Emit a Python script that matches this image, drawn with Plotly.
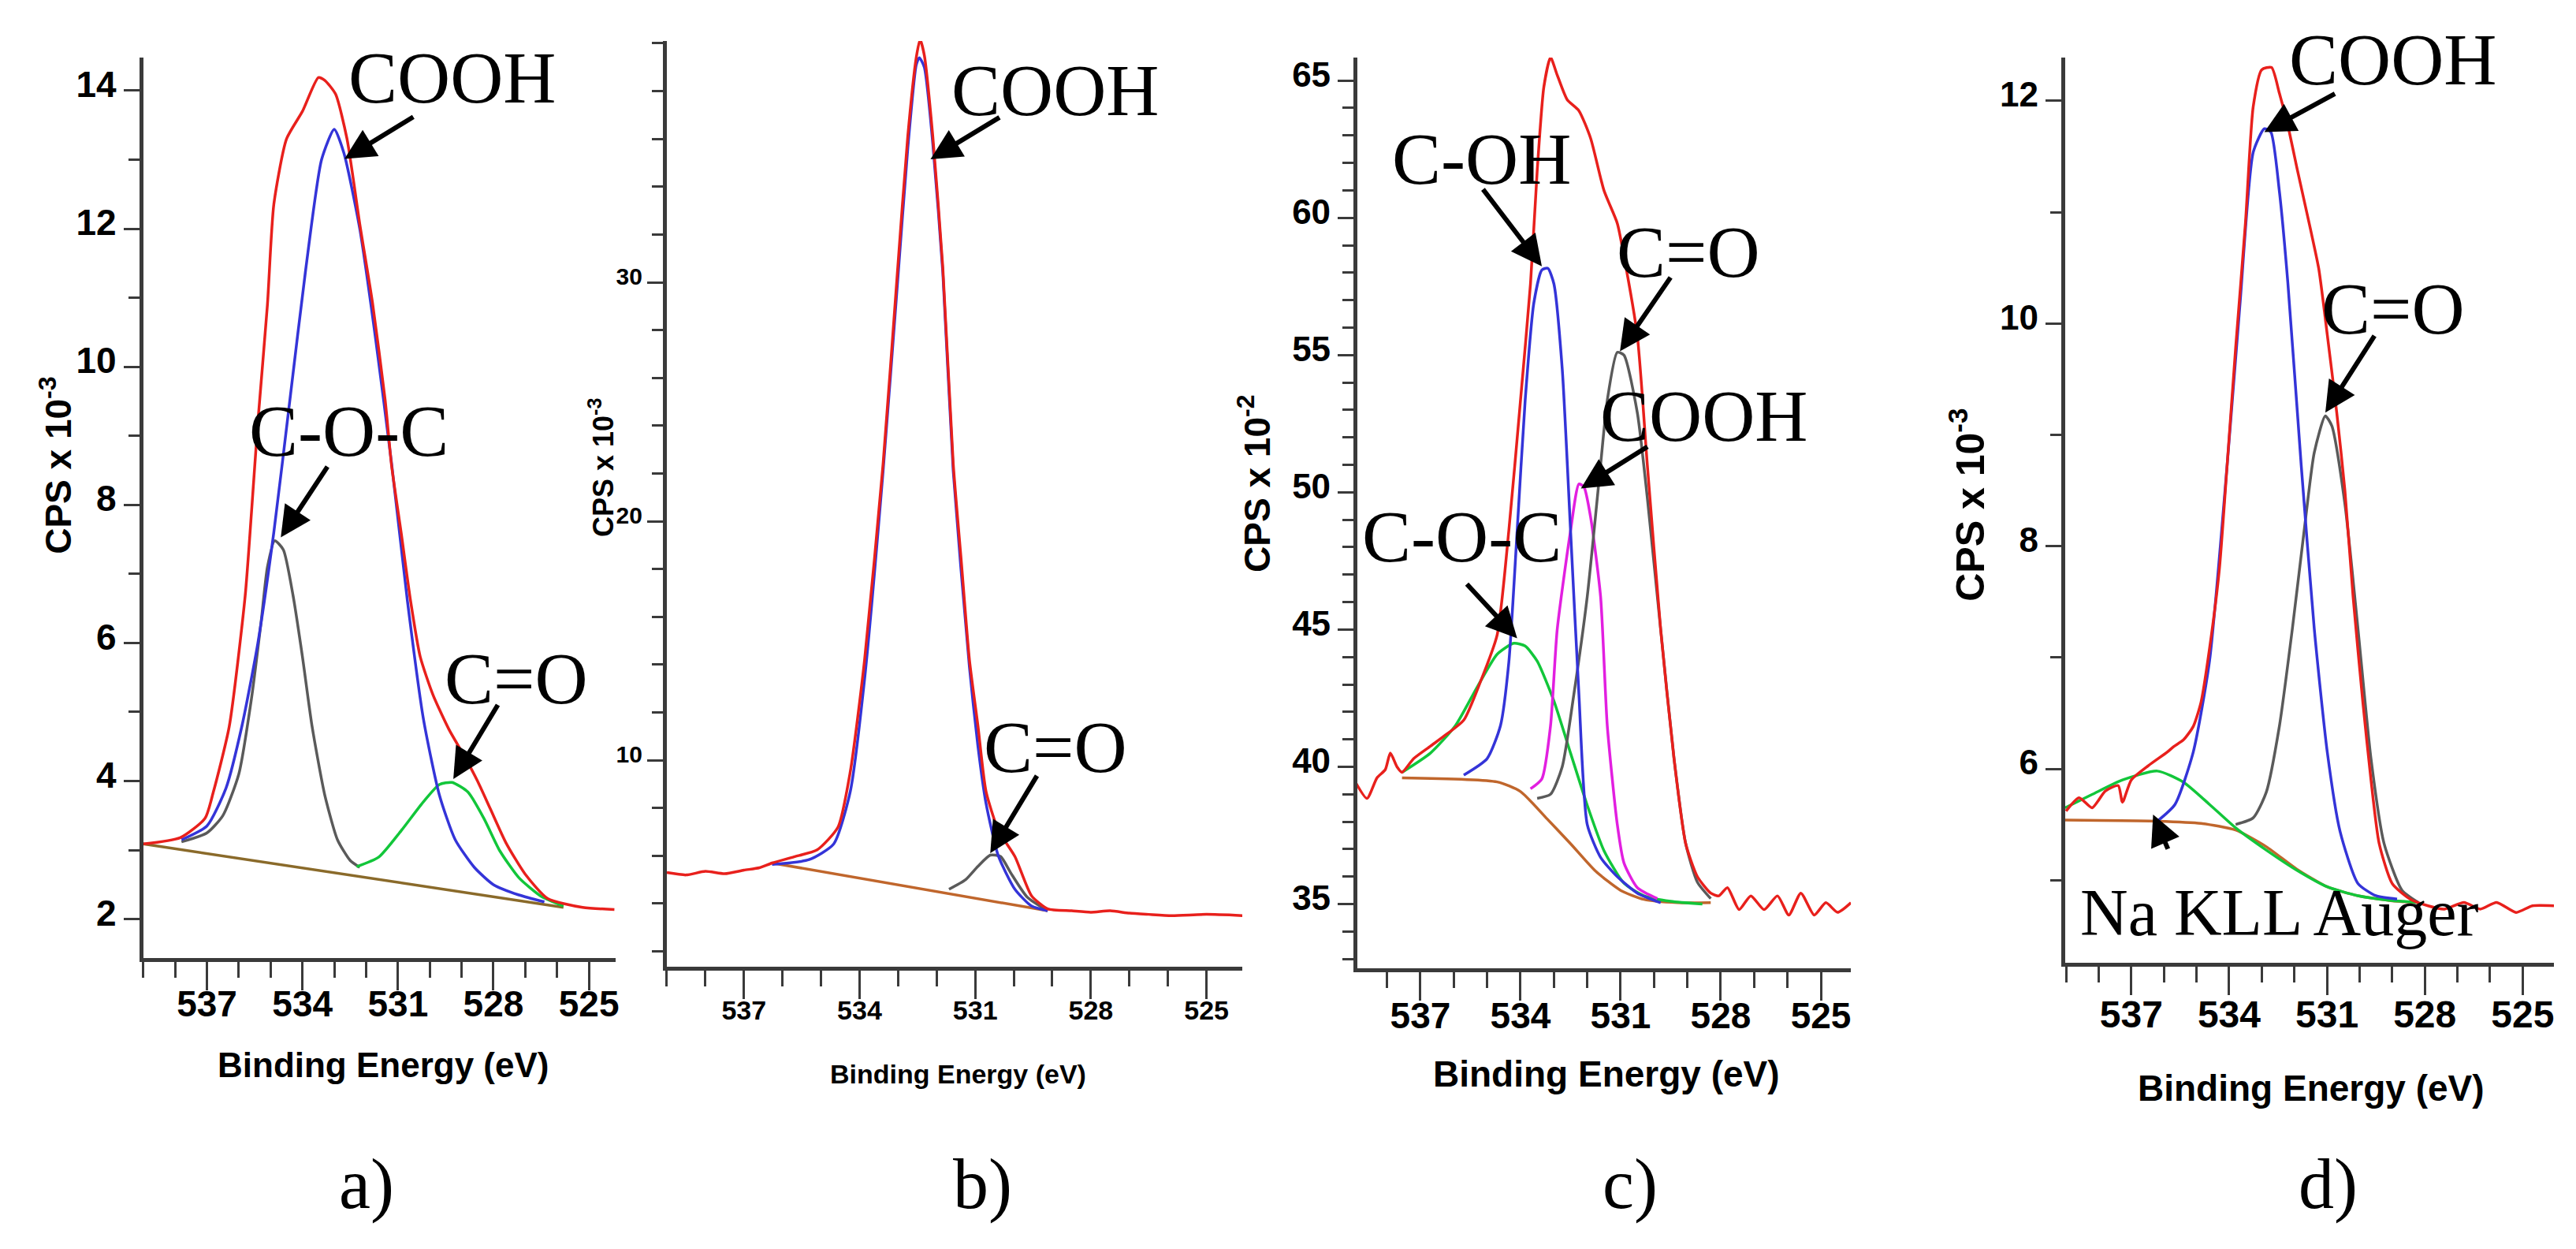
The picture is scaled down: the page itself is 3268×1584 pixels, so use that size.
import plotly.graph_objects as go

W, H = 3268, 1584

# ---------------- data (binding energy in eV, intensity in CPS units of each panel) -------------
X_TICKS = [537, 534, 531, 528, 525]

# Panel a (CPS x 10^-3)
A_RAW_E = [539.0, 537.84, 537.06, 536.8, 536.3, 535.8, 535.6, 535.4, 535.1, 534.9, 534.5, 534.0, 533.5, 533.3, 532.96, 532.6, 532.2, 531.8, 531.4, 531.2, 530.9, 530.6, 530.3, 529.9, 529.4, 528.9, 528.5, 528.1, 527.6, 527.0, 526.3, 525.2, 524.2]
A_RAW_I = [3.09, 3.18, 3.46, 3.84, 4.79, 6.68, 7.9, 9.2, 10.9, 12.35, 13.3, 13.7, 14.19, 14.15, 13.95, 13.3, 12.07, 10.93, 9.51, 8.57, 7.6, 6.6, 5.8, 5.25, 4.75, 4.35, 4.0, 3.6, 3.1, 2.65, 2.3, 2.17, 2.14]
A_COOH_E = [537.8, 537.0, 536.4, 535.9, 535.4, 534.9, 534.4, 533.9, 533.4, 533.0, 532.7, 532.2, 531.7, 531.2, 530.7, 530.2, 529.7, 529.2, 528.6, 528.0, 527.2, 526.4]
A_COOH_I = [3.15, 3.35, 3.9, 4.8, 6.0, 7.6, 9.5, 11.4, 13.0, 13.44, 13.1, 12.0, 10.4, 8.6, 6.6, 4.9, 3.8, 3.15, 2.75, 2.5, 2.35, 2.25]
A_COC_E = [537.8, 537.0, 536.5, 536.0, 535.6, 535.3, 535.1, 534.87, 534.6, 534.3, 534.0, 533.7, 533.3, 532.9, 532.5, 532.2]
A_COC_I = [3.12, 3.25, 3.5, 4.1, 5.2, 6.3, 7.1, 7.48, 7.35, 6.7, 5.8, 4.8, 3.8, 3.15, 2.85, 2.75]
A_CO_E = [532.3, 531.6, 530.9, 530.2, 529.7, 529.3, 528.8, 528.3, 527.8, 527.2, 526.5, 525.8]
A_CO_I = [2.76, 2.9, 3.28, 3.7, 3.95, 3.98, 3.84, 3.46, 2.99, 2.6, 2.33, 2.19]
A_BG_E = [539.0, 525.8]
A_BG_I = [3.09, 2.17]

# Panel b (CPS x 10^-3)
B_RAW_E = [539.0, 538.5, 538.0, 537.5, 537.0, 536.6, 536.27, 535.7, 535.1, 534.56, 534.24, 533.87, 533.39, 533.01, 532.75, 532.53, 532.43, 532.32, 532.1, 531.84, 531.57, 531.36, 531.15, 530.93, 530.72, 530.4, 529.97, 529.54, 529.12, 528.5, 528.0, 527.5, 527.0, 526.5, 525.9, 525.0, 524.07]
B_RAW_I = [5.3, 5.2, 5.35, 5.25, 5.4, 5.5, 5.7, 5.96, 6.25, 7.2, 9.53, 14.2, 22.4, 30.6, 36.1, 39.4, 40.16, 39.5, 36.1, 30.6, 22.4, 18.3, 14.2, 11.45, 8.7, 7.07, 5.97, 4.33, 3.78, 3.7, 3.64, 3.7, 3.6, 3.55, 3.5, 3.55, 3.5]
B_COOH_E = [536.27, 535.31, 534.67, 534.24, 533.87, 533.39, 533.01, 532.75, 532.53, 532.45, 532.32, 532.1, 531.84, 531.57, 531.15, 530.93, 530.72, 530.4, 529.97, 529.54, 529.12]
B_COOH_I = [5.64, 5.84, 6.5, 8.7, 13.4, 22.1, 30.1, 35.6, 39.1, 39.4, 39.0, 35.8, 30.4, 22.1, 13.9, 10.6, 8.2, 6.0, 4.6, 3.9, 3.7]
B_CO_E = [531.68, 531.25, 530.93, 530.61, 530.34, 530.08, 529.65, 529.12]
B_CO_I = [4.6, 5.0, 5.56, 6.03, 5.97, 5.29, 4.27, 3.7]
B_BG_E = [536.27, 529.12]
B_BG_I = [5.7, 3.7]

# Panel c (CPS x 10^-2)
C_RAW_E = [539.0, 538.6, 538.3, 538.05, 537.9, 537.7, 537.55, 537.2, 536.7, 536.2, 535.7, 535.2, 534.7, 534.35, 534.0, 533.7, 533.5, 533.3, 533.1, 532.9, 532.6, 532.25, 531.9, 531.5, 531.1, 530.9, 530.5, 530.2, 529.8, 529.4, 529.05, 528.7, 528.3, 528.06, 527.8, 527.45, 527.1, 526.7, 526.3, 525.96, 525.6, 525.2, 524.85, 524.5, 524.1]
C_RAW_I = [39.56, 38.85, 39.6, 39.9, 40.5, 40.0, 39.8, 40.3, 40.75, 41.2, 41.7, 43.1, 44.8, 48.6, 53.35, 57.6, 61.7, 64.77, 65.84, 65.2, 64.3, 63.9, 62.9, 61.0, 59.8, 58.6, 55.7, 51.0, 45.0, 40.3, 37.2, 36.0, 35.4, 35.3, 35.6, 34.8, 35.3, 34.8, 35.3, 34.6, 35.4, 34.6, 35.05, 34.7, 35.05]
C_COH_E = [535.7, 535.0, 534.6, 534.35, 534.1, 533.86, 533.6, 533.36, 533.18, 533.0, 532.75, 532.5, 532.25, 532.0, 531.6, 531.1, 530.5, 529.8]
C_COH_I = [39.7, 40.3, 41.5, 43.8, 48.6, 53.35, 56.9, 58.1, 58.16, 57.6, 54.5, 48.6, 42.65, 37.9, 36.7, 36.0, 35.4, 35.05]
C_COOH_E = [533.7, 533.36, 533.1, 532.9, 532.5, 532.25, 532.1, 531.9, 531.6, 531.4, 531.1, 530.9, 530.5, 529.9]
C_COOH_I = [39.2, 39.56, 41.5, 45.0, 48.6, 50.3, 50.2, 49.1, 46.2, 41.5, 37.9, 36.5, 35.6, 35.2]
C_CO_E = [533.5, 533.1, 532.75, 532.4, 532.0, 531.6, 531.4, 531.1, 530.9, 530.5, 530.2, 529.8, 529.4, 529.05, 528.7, 528.3]
C_CO_I = [38.85, 39.0, 40.0, 42.65, 46.2, 51.0, 53.35, 55.1, 55.0, 52.9, 49.8, 45.0, 40.3, 37.2, 35.8, 35.2]
C_COC_E = [537.55, 536.7, 535.95, 535.3, 534.7, 534.2, 533.86, 533.5, 533.0, 532.5, 532.0, 531.5, 530.9, 530.3, 529.5, 528.55]
C_COC_I = [39.8, 40.5, 41.5, 42.9, 44.1, 44.5, 44.4, 43.85, 42.4, 40.5, 38.6, 36.95, 35.76, 35.3, 35.1, 35.0]
C_BG_E = [537.55, 534.7, 534.0, 533.2, 532.5, 531.75, 531.0, 530.3, 529.3, 528.3]
C_BG_I = [39.6, 39.45, 39.1, 38.1, 37.2, 36.2, 35.5, 35.17, 35.05, 35.05]

# Panel d (CPS x 10^-3)
D_RAW_E = [539.0, 538.6, 538.2, 537.8, 537.4, 537.27, 537.0, 536.47, 535.9, 535.7, 535.4, 535.1, 534.86, 534.6, 534.3, 534.06, 533.8, 533.5, 533.26, 533.0, 532.7, 532.46, 532.2, 531.9, 531.5, 531.25, 530.99, 530.7, 530.45, 530.2, 529.9, 529.65, 529.4, 529.0, 528.45, 527.9, 527.4, 526.8, 526.3, 525.8, 525.2, 524.7, 524.04]
D_RAW_I = [5.62, 5.74, 5.65, 5.8, 5.85, 5.7, 5.9, 6.03, 6.15, 6.2, 6.26, 6.38, 6.6, 7.08, 7.79, 8.73, 9.78, 10.9, 11.95, 12.28, 12.3, 12.07, 11.78, 11.37, 10.84, 10.49, 9.9, 9.2, 8.5, 7.55, 6.6, 5.9, 5.33, 4.97, 4.83, 4.77, 4.74, 4.8, 4.74, 4.8, 4.71, 4.77, 4.77]
D_COOH_E = [536.2, 535.66, 535.1, 534.6, 534.06, 533.66, 533.26, 532.92, 532.72, 532.46, 532.2, 531.79, 531.39, 530.99, 530.6, 530.05, 529.5, 528.85]
D_COOH_I = [5.53, 5.68, 6.15, 6.97, 8.73, 10.2, 11.54, 11.75, 11.72, 11.19, 10.37, 8.73, 7.26, 6.15, 5.44, 4.97, 4.86, 4.83]
D_CO_E = [533.8, 533.26, 532.86, 532.46, 532.06, 531.65, 531.39, 531.05, 530.85, 530.45, 530.05, 529.65, 529.25, 528.7, 528.2]
D_CO_I = [5.5, 5.56, 5.79, 6.38, 7.26, 8.26, 8.84, 9.17, 9.08, 8.38, 7.26, 6.09, 5.33, 4.91, 4.8]
D_NA_E = [539.03, 538.2, 537.27, 536.2, 535.4, 534.6, 533.8, 532.86, 531.93, 530.99, 530.05, 529.1, 528.2]
D_NA_I = [5.65, 5.77, 5.9, 5.98, 5.88, 5.68, 5.47, 5.27, 5.09, 4.94, 4.86, 4.82, 4.8]
D_BG_E = [539.03, 536.2, 534.86, 533.8, 532.86, 531.93, 530.99, 530.05, 528.85, 528.2]
D_BG_I = [5.54, 5.53, 5.51, 5.45, 5.3, 5.1, 4.94, 4.86, 4.81, 4.8]

# ---------------- styling -------------
RED = "#e8201c"
BLUE = "#3434d8"
GRAY = "#5a5a5a"
GREEN = "#12c63a"
MAGENTA = "#e21fe0"
BGC = "#c0662c"
AXC = "#3a3a3a"
SANS = "Liberation Sans, Arial"
SERIF = "Liberation Serif, Times New Roman"


def px(x):
    return x / W


def py(y):
    return 1 - y / H


fig = go.Figure()


def add(xa, ya, e, i, color, width=3.5):
    fig.add_trace(go.Scatter(x=e, y=i, mode="lines", xaxis=xa, yaxis=ya,
                             line=dict(color=color, width=width, shape="spline", smoothing=0.6),
                             showlegend=False, hoverinfo="skip"))


# panel a
add("x", "y", A_BG_E, A_BG_I, "#8a6a2a")
add("x", "y", A_COC_E, A_COC_I, GRAY)
add("x", "y", A_CO_E, A_CO_I, GREEN)
add("x", "y", A_COOH_E, A_COOH_I, BLUE)
add("x", "y", A_RAW_E, A_RAW_I, RED)
# panel b
add("x2", "y2", B_BG_E, B_BG_I, BGC)
add("x2", "y2", B_CO_E, B_CO_I, GRAY)
add("x2", "y2", B_COOH_E, B_COOH_I, BLUE)
add("x2", "y2", B_RAW_E, B_RAW_I, RED)
# panel c
add("x3", "y3", C_BG_E, C_BG_I, BGC)
add("x3", "y3", C_COC_E, C_COC_I, GREEN)
add("x3", "y3", C_COOH_E, C_COOH_I, MAGENTA)
add("x3", "y3", C_CO_E, C_CO_I, GRAY)
add("x3", "y3", C_COH_E, C_COH_I, BLUE)
add("x3", "y3", C_RAW_E, C_RAW_I, RED)
# panel d
add("x4", "y4", D_BG_E, D_BG_I, BGC)
add("x4", "y4", D_NA_E, D_NA_I, GREEN)
add("x4", "y4", D_CO_E, D_CO_I, GRAY)
add("x4", "y4", D_COOH_E, D_COOH_I, BLUE)
add("x4", "y4", D_RAW_E, D_RAW_I, RED)


def xaxis(dom, rng, anchor, fs, standoff):
    return dict(domain=[px(dom[0]), px(dom[1])], range=rng, anchor=anchor,
                showline=True, linecolor=AXC, linewidth=5, mirror=False,
                ticks="outside", ticklen=36, tickwidth=3, tickcolor=AXC,
                tickmode="array", tickvals=X_TICKS, ticktext=[str(v) for v in X_TICKS],
                ticklabelstandoff=standoff,
                tickfont=dict(family=SANS, size=fs, color="black", weight="bold"),
                minor=dict(tickmode="linear", tick0=525, dtick=1, ticks="outside", ticklen=20,
                           tickwidth=3, tickcolor=AXC, showgrid=False),
                showgrid=False, zeroline=False, fixedrange=True)


def yaxis(dom, rng, anchor, tickvals, mdt, m0, fs):
    return dict(domain=[py(dom[1]), py(dom[0])], range=rng, anchor=anchor,
                showline=True, linecolor=AXC, linewidth=5, mirror=False,
                ticks="outside", ticklen=20, tickwidth=3, tickcolor=AXC,
                tickmode="array", tickvals=tickvals, ticktext=[str(v) for v in tickvals],
                ticklabelshift=-8,
                tickfont=dict(family=SANS, size=fs, color="black", weight="bold"),
                minor=dict(tickmode="linear", tick0=m0, dtick=mdt, ticks="outside", ticklen=14,
                           tickwidth=3, tickcolor=AXC, showgrid=False),
                showgrid=False, zeroline=False, fixedrange=True)


layout = dict(width=W, height=H, margin=dict(l=0, r=0, t=0, b=0),
              paper_bgcolor="white", plot_bgcolor="white", showlegend=False)
layout["xaxis"] = xaxis((174, 774), [539.0, 524.16], "y", 46, -22)
layout["yaxis"] = yaxis((62, 1206), [1.44, 14.48], "x", [2, 4, 6, 8, 10, 12, 14], 1, 1, 46)
layout["xaxis2"] = xaxis((839, 1570), [539.0, 524.07], "y2", 34, -14)
layout["yaxis2"] = yaxis((41, 1217), [1.37, 40.1], "x2", [10, 20, 30], 2, 0, 30)
layout["xaxis3"] = xaxis((1716, 2343), [538.89, 524.1], "y3", 46, -20)
layout["yaxis3"] = yaxis((62, 1219), [32.67, 65.84], "x3", [35, 40, 45, 50, 55, 60, 65], 1, 30, 44)
layout["xaxis4"] = xaxis((2615, 3236), [539.03, 524.04], "y4", 48, -16)
layout["yaxis4"] = yaxis((62, 1212), [4.26, 12.39], "x4", [6, 8, 10, 12], 1, 4, 44)
fig.update_layout(**layout)

ann = []


def label(xr, yr, x, y, text, size=93):
    ann.append(dict(xref=xr, yref=yr, x=x, y=y, text=text, showarrow=False,
                    font=dict(family=SERIF, size=size, color="black"),
                    xanchor="center", yanchor="middle"))


def arrow(xr, yr, hx, hy, tx, ty):
    ann.append(dict(xref=xr, yref=yr, axref=xr, ayref=yr, x=hx, y=hy, ax=tx, ay=ty,
                    text="", showarrow=True, arrowhead=2, arrowsize=1.3, arrowwidth=6,
                    arrowcolor="black", standoff=0, startstandoff=0))


# panel a
label("x", "y", 529.29, 14.19, "COOH")
arrow("x", "y", 532.68, 13.01, 530.48, 13.63)
label("x", "y", 532.55, 9.07, "C-O-C")
arrow("x", "y", 534.68, 7.53, 533.19, 8.57)
label("x", "y", 527.29, 5.49, "C=O")
arrow("x", "y", 529.26, 4.03, 527.84, 5.12)
# panel b
label("x2", "y2", 528.92, 38.03, "COOH")
arrow("x2", "y2", 532.16, 35.15, 530.34, 36.93)
label("x2", "y2", 528.92, 10.56, "C=O")
arrow("x2", "y2", 530.61, 6.11, 529.38, 9.40)
# panel c
label("x3", "y3", 535.16, 62.16, "C-OH")
arrow("x3", "y3", 533.36, 58.23, 535.15, 61.08)
label("x3", "y3", 528.98, 58.75, "C=O")
arrow("x3", "y3", 531.02, 55.14, 529.48, 57.87)
label("x3", "y3", 528.49, 52.78, "COOH")
arrow("x3", "y3", 532.19, 50.14, 530.16, 51.69)
label("x3", "y3", 535.77, 48.39, "C-O-C")
arrow("x3", "y3", 534.10, 44.68, 535.64, 46.70)
# panel d
label("x4", "y4", 528.96, 12.37, "COOH")
arrow("x4", "y4", 532.92, 11.72, 530.72, 12.07)
label("x4", "y4", 528.98, 10.13, "C=O")
arrow("x4", "y4", 531.05, 9.20, 529.52, 9.90)
label("x4", "y4", 532.46, 4.71, "Na KLL Auger", size=84)
arrow("x4", "y4", 536.33, 5.59, 535.86, 5.27)


def ptext(x, y, text, size, family=SANS, angle=0, bold=True):
    ann.append(dict(xref="paper", yref="paper", x=px(x), y=py(y), text=text, showarrow=False,
                    textangle=angle,
                    font=dict(family=family, size=size, color="black", weight="bold" if bold else "normal"),
                    xanchor="center", yanchor="middle"))


ptext(63, 580, "CPS x 10<sup>-3</sup>", 46, angle=-90)
ptext(756, 583, "CPS x 10<sup>-3</sup>", 36, angle=-90)
ptext(1585, 603, "CPS x 10<sup>-2</sup>", 46, angle=-90)
ptext(2491, 630, "CPS x 10<sup>-3</sup>", 50, angle=-90)

ptext(479, 1342, "Binding Energy (eV)", 44)
ptext(1209, 1354, "Binding Energy (eV)", 34)
ptext(2032, 1354, "Binding Energy (eV)", 46)
ptext(2928, 1372, "Binding Energy (eV)", 46)

for x, t in [(458, "a)"), (1240, "b)"), (2063, "c)"), (2949, "d)")]:
    ptext(x, 1494, t, 90, family=SERIF, bold=False)

fig.update_layout(annotations=ann)
fig.write_html("out.html")
